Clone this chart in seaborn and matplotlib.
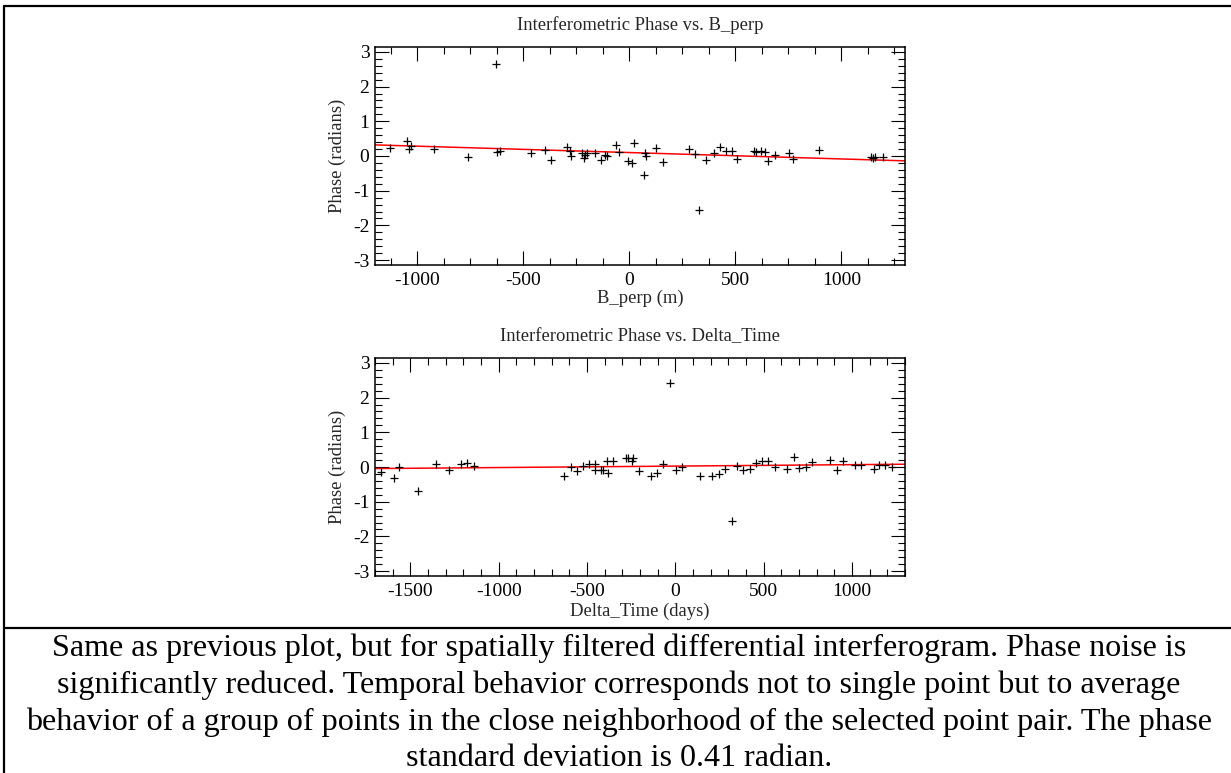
import matplotlib
matplotlib.use("Agg")
import matplotlib.pyplot as plt
from matplotlib.lines import Line2D
from matplotlib.ticker import MultipleLocator
import pandas as pd
import seaborn as sns

# Phase vs. perpendicular baseline (m, radians)
bperp = [-1128, -1047, -1041, -1028, -924, -762, -630, -623, -612,
         -462, -400, -369, -296, -282, -275, -224, -216, -211,
         -202, -160, -132, -114, -106, -65, -47, -6, 10,
         20, 68, 72, 79, 125, 157, 283, 311, 330,
         363, 398, 429, 458, 484, 506, 587, 597, 623,
         640, 656, 689, 752, 774, 893, 1141, 1150, 1157,
         1196]
bperp_phase = [0.23, 0.42, 0.20, 0.29, 0.20, -0.03, 2.64, 0.12, 0.15,
               0.08, 0.16, -0.11, 0.25, 0.14, 0.01, 0.10, -0.05, 0.03,
               0.10, 0.10, -0.11, 0.02, -0.01, 0.33, 0.11, -0.13, -0.20,
               0.38, -0.56, 0.08, 0.0, 0.22, -0.18, 0.19, 0.06, -1.57,
               -0.12, 0.08, 0.25, 0.15, 0.15, -0.09, 0.14, 0.11, 0.13,
               0.12, -0.13, 0.04, 0.08, -0.09, 0.18, -0.02, -0.06, -0.02,
               -0.02]
bperp_fit_x = [-1200, 1300]
bperp_fit_y = [0.32, -0.14]

# Phase vs. time separation (days, radians)
dtime = [-1667, -1595, -1562, -1457, -1352, -1279, -1212, -1178, -1141,
         -629, -590, -558, -525, -491, -454, -452, -422, -412,
         -386, -382, -351, -280, -269, -246, -242, -206, -137,
         -104, -68, -33, 1, 37, 142, 209, 248, 282,
         318, 351, 385, 420, 458, 493, 527, 563, 630,
         669, 699, 738, 772, 877, 914, 948, 1015, 1051,
         1122, 1155, 1189, 1227]
dtime_phase = [-0.14, -0.31, 0.0, -0.69, 0.08, -0.08, 0.10, 0.11, 0.04,
               -0.27, 0.0, -0.11, 0.03, 0.10, -0.08, 0.10, -0.10, -0.10,
               0.17, -0.17, 0.17, 0.27, 0.25, 0.17, 0.25, -0.11, -0.26,
               -0.16, 0.10, 2.42, -0.09, 0.0, -0.27, -0.27, -0.20, -0.05,
               -1.57, 0.03, -0.10, -0.05, 0.12, 0.17, 0.17, 0.0, -0.05,
               0.30, -0.03, 0.0, 0.13, 0.19, -0.10, 0.17, 0.06, 0.06,
               -0.05, 0.06, 0.06, -0.01]
dtime_fit_x = [-1700, 1300]
dtime_fit_y = [-0.045, 0.08]

caption_lines = [
    "Same as previous plot, but for spatially filtered differential interferogram. Phase noise is",
    "significantly reduced. Temporal behavior corresponds not to single point but to average",
    "behavior of a group of points in the close neighborhood of the selected point pair. The phase",
    "standard deviation is 0.41 radian.",
]

sns.set_style("ticks")
plt.rcParams['font.family'] = ['Liberation Serif', 'DejaVu Serif']
plt.rcParams['axes.unicode_minus'] = False

W, H = 1231, 773
fig = plt.figure(figsize=(W / 100, H / 100), dpi=100)


def draw_panel(rect, x, y, fx, fy, xlim, minor, title, xlabel, title_y, xlabel_y):
    ax = fig.add_axes(rect)
    df = pd.DataFrame({'x': x, 'phase': y})
    sns.scatterplot(data=df, x='x', y='phase', marker='+', color='black',
                    s=30, linewidth=0.9, ax=ax, zorder=3)
    sns.lineplot(x=fx, y=fy, color='red', linewidth=1.1, ax=ax, zorder=2)
    ax.set_xlim(*xlim)
    ax.set_ylim(-3.1416, 3.1416)
    ax.xaxis.set_major_locator(MultipleLocator(500))
    ax.xaxis.set_minor_locator(MultipleLocator(minor))
    ax.yaxis.set_major_locator(MultipleLocator(1))
    ax.yaxis.set_minor_locator(MultipleLocator(0.2))
    ax.tick_params(which='both', direction='in', top=True, right=True,
                   width=0.8, color='black', labelsize=14, labelcolor='black')
    ax.tick_params(which='major', length=10)
    ax.tick_params(which='minor', length=5)
    ax.tick_params(axis='x', pad=5)
    ax.tick_params(axis='y', pad=4)
    for sp in ax.spines.values():
        sp.set_linewidth(1.1)
        sp.set_color('black')
    ax.set_xlabel(xlabel, fontsize=13.4)
    ax.xaxis.set_label_coords(0.5, xlabel_y)
    ax.xaxis.label.set_va('center')
    ax.set_ylabel("Phase (radians)", fontsize=13.4)
    ax.yaxis.set_label_coords(-0.0708, 0.5)
    ax.yaxis.label.set_va('center')
    fig.text(640 / W, 1 - title_y / H, title, ha='center', va='center', fontsize=13.4)
    return ax


draw_panel([375 / W, 1 - 265 / H, 530 / W, 218 / H], bperp, bperp_phase,
           bperp_fit_x, bperp_fit_y, (-1200, 1300), 125,
           "Interferometric Phase vs. B_perp", "B_perp (m)", 25, -0.151)
draw_panel([375 / W, 1 - 576 / H, 530 / W, 218 / H], dtime, dtime_phase,
           dtime_fit_x, dtime_fit_y, (-1700, 1300), 100,
           "Interferometric Phase vs. Delta_Time", "Delta_Time (days)", 337, -0.161)

# table frame around the figure and caption
for (x0, y0, x1, y1) in [(4, 5.5, W, 5.5), (4, 627.5, W, 627.5), (4, 5.5, 4, H)]:
    fig.add_artist(Line2D([x0 / W, x1 / W], [1 - y0 / H, 1 - y1 / H],
                          color='black', linewidth=1.6))

for i, line in enumerate(caption_lines):
    fig.text(619 / W, 1 - (648 + 37 * i) / H, line, ha='center', va='center',
             fontsize=23.1, color='black')

fig.savefig('out.png', dpi=100)
